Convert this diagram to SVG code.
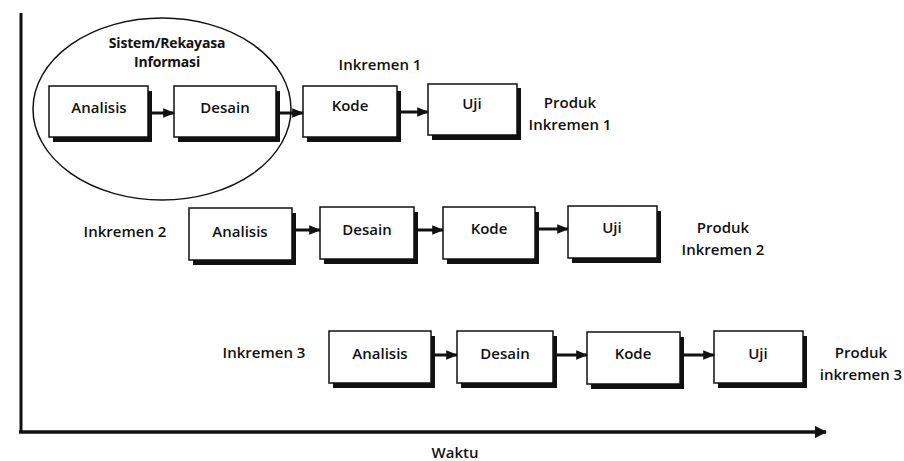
<svg xmlns="http://www.w3.org/2000/svg" width="904" height="461" viewBox="0 0 904 461">
<defs>
<style>
.t{font-family:"Open Sans","Liberation Sans",sans-serif;font-weight:600;font-size:15px;fill:#111;}
.bx{fill:#fff;stroke:#111;stroke-width:1.5;}
.sh{fill:#111;}
.c{stroke:#111;stroke-width:3;fill:none;}
</style>
<marker id="ah" viewBox="0 0 10 10" refX="9" refY="5" markerWidth="4" markerHeight="4" orient="auto" markerUnits="strokeWidth">
<path d="M0,1 L10,5 L0,9 Z" fill="#111"/>
</marker>
<marker id="ax" viewBox="0 0 10 10" refX="9" refY="5" markerWidth="3.5" markerHeight="3.5" orient="auto" markerUnits="strokeWidth">
<path d="M0,0 L10,5 L0,10 Z" fill="#111"/>
</marker>
</defs>
<rect width="904" height="461" fill="#fff"/>

<g id="axes">
<line x1="21" y1="13" x2="21" y2="433" stroke="#111" stroke-width="3"/>
<line x1="19" y1="432" x2="826" y2="432" stroke="#111" stroke-width="3.5" marker-end="url(#ax)"/>
<text class="t" x="455" y="458" text-anchor="middle">Waktu</text>
</g>

<g id="ellipse">
<ellipse cx="162" cy="109" rx="129" ry="91" fill="none" stroke="#111" stroke-width="1.5"/>
<text class="t" x="167" y="48" text-anchor="middle" style="font-weight:700;font-size:14px;letter-spacing:-0.2px">Sistem/Rekayasa</text>
<text class="t" x="167" y="67" text-anchor="middle" style="font-weight:700;font-size:14px;letter-spacing:-0.2px">Informasi</text>
</g>

<g id="labels">
<text class="t" x="380" y="70" text-anchor="middle">Inkremen 1</text>
<text class="t" x="570" y="108" text-anchor="middle">Produk</text>
<text class="t" x="570" y="130" text-anchor="middle">Inkremen 1</text>
<text class="t" x="125" y="237" text-anchor="middle">Inkremen 2</text>
<text class="t" x="723" y="233" text-anchor="middle">Produk</text>
<text class="t" x="723" y="255" text-anchor="middle">Inkremen 2</text>
<text class="t" x="264" y="358" text-anchor="middle">Inkremen 3</text>
<text class="t" x="861" y="358" text-anchor="middle">Produk</text>
<text class="t" x="861" y="380" text-anchor="middle">inkremen 3</text>
</g>

<g id="r1-analisis"><rect class="sh" x="53" y="91" width="99" height="51"/><rect class="bx" x="49" y="86" width="99" height="51"/><text class="t" x="99" y="113" text-anchor="middle">Analisis</text></g>
<g id="r1-desain"><rect class="sh" x="178" y="91" width="102" height="51"/><rect class="bx" x="174" y="86" width="102" height="51"/><text class="t" x="225" y="113" text-anchor="middle">Desain</text></g>
<g id="r1-kode"><rect class="sh" x="307" y="91" width="94" height="51"/><rect class="bx" x="303" y="86" width="94" height="51"/><text class="t" x="350" y="111" text-anchor="middle">Kode</text></g>
<g id="r1-uji"><rect class="sh" x="432" y="88" width="89" height="52"/><rect class="bx" x="428" y="84" width="89" height="51"/><text class="t" x="472" y="109" text-anchor="middle">Uji</text></g>

<g id="r2-analisis"><rect class="sh" x="193" y="213" width="103" height="52"/><rect class="bx" x="189" y="208" width="103" height="52"/><text class="t" x="240" y="237" text-anchor="middle">Analisis</text></g>
<g id="r2-desain"><rect class="sh" x="324" y="212" width="94" height="52"/><rect class="bx" x="320" y="207" width="94" height="52"/><text class="t" x="367" y="235" text-anchor="middle">Desain</text></g>
<g id="r2-kode"><rect class="sh" x="447" y="212" width="92" height="52"/><rect class="bx" x="443" y="207" width="92" height="52"/><text class="t" x="489" y="234" text-anchor="middle">Kode</text></g>
<g id="r2-uji"><rect class="sh" x="572" y="211" width="89" height="52"/><rect class="bx" x="568" y="206" width="89" height="52"/><text class="t" x="612" y="233" text-anchor="middle">Uji</text></g>

<g id="r3-analisis"><rect class="sh" x="333" y="336" width="102" height="52"/><rect class="bx" x="329" y="331" width="102" height="52"/><text class="t" x="380" y="359" text-anchor="middle">Analisis</text></g>
<g id="r3-desain"><rect class="sh" x="461" y="336" width="96" height="52"/><rect class="bx" x="457" y="331" width="96" height="52"/><text class="t" x="505" y="359" text-anchor="middle">Desain</text></g>
<g id="r3-kode"><rect class="sh" x="591" y="337" width="93" height="52"/><rect class="bx" x="587" y="332" width="93" height="52"/><text class="t" x="633" y="359" text-anchor="middle">Kode</text></g>
<g id="r3-uji"><rect class="sh" x="718" y="336" width="89" height="52"/><rect class="bx" x="714" y="331" width="89" height="52"/><text class="t" x="758" y="359" text-anchor="middle">Uji</text></g>

<g id="connectors">
<line class="c" x1="152" y1="113" x2="174" y2="113" marker-end="url(#ah)"/>
<line class="c" x1="280" y1="113" x2="303" y2="113" marker-end="url(#ah)"/>
<line class="c" x1="401" y1="112" x2="428" y2="112" marker-end="url(#ah)"/>
<line class="c" x1="296" y1="230" x2="320" y2="230" marker-end="url(#ah)"/>
<line class="c" x1="418" y1="230" x2="443" y2="230" marker-end="url(#ah)"/>
<line class="c" x1="539" y1="229" x2="568" y2="229" marker-end="url(#ah)"/>
<line class="c" x1="435" y1="355" x2="457" y2="355" marker-end="url(#ah)"/>
<line class="c" x1="557" y1="355" x2="587" y2="355" marker-end="url(#ah)"/>
<line class="c" x1="684" y1="355" x2="714" y2="355" marker-end="url(#ah)"/>
</g>
</svg>
